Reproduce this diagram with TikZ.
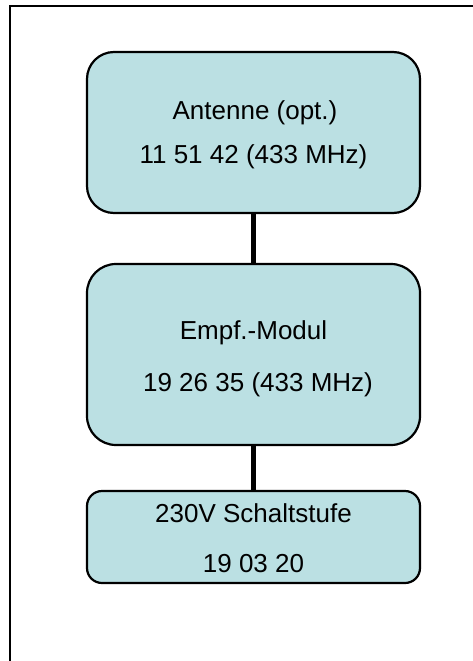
\documentclass[tikz,border=0pt]{standalone}
\usepackage{fontspec}
\setmainfont{Liberation Sans}
\definecolor{boxfill}{RGB}{187,224,227}
\begin{document}
\begin{tikzpicture}[x=1pt,y=-1pt,
  box/.style={draw=black, line width=2.2pt, fill=boxfill, rounded corners=#1,
              minimum width=333pt, inner sep=0pt},
  lbl/.style={anchor=base, inner sep=0pt, text=black,
              font=\fontsize{26}{30}\selectfont},
  link/.style={draw=black, line width=5pt},
  frameline/.style={draw=black, line width=1.6pt}]
\useasboundingbox (0,0) rectangle (473,661);
\fill[white] (0,0) rectangle (473,661);
\coordinate (fTR) at (473,6);
\coordinate (fTL) at (10,6);
\coordinate (fBL) at (10,661);
\draw[frameline] (fTR) -- (fTL) -- (fBL);

\node[box=27pt, minimum height=161pt] (ant) at (253.5,132.5) {};
\node[box=29pt, minimum height=181pt] (emp) at (253.5,354.5) {};
\node[box=15pt, minimum height=92pt]  (sch) at (253.5,537) {};

\draw[link] (ant.south) -- (emp.north);
\draw[link] (emp.south) -- (sch.north);

\node[lbl] (antA) at (255,119) {Antenne (opt.)};
\node[lbl] (antB) at (253.5,163) {11 51 42 (433 MHz)};
\node[lbl] (empA) at (253.5,339) {Empf.-Modul};
\node[lbl] (empB) at (258,391) {19 26 35 (433 MHz)};
\node[lbl] (schA) at (253.5,522) {230V Schaltstufe};
\node[lbl] (schB) at (253.5,572) {19 03 20};
\end{tikzpicture}
\end{document}
